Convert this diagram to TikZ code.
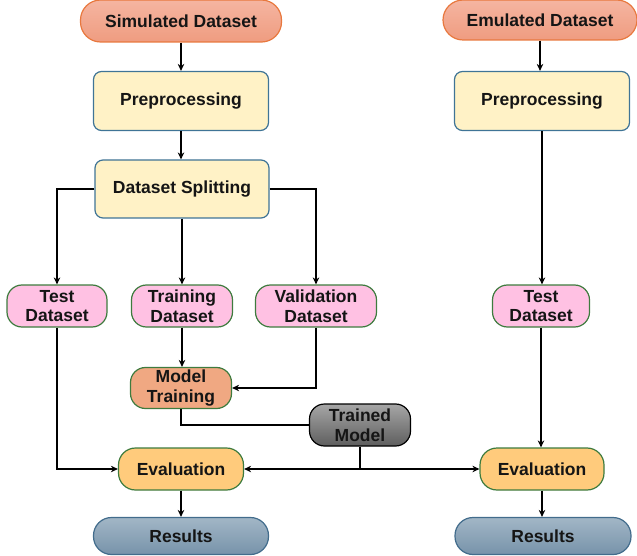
\documentclass[tikz,border=0pt]{standalone}
\usepackage{fontspec}
\setmainfont{Liberation Sans}
\usetikzlibrary{arrows.meta}
\definecolor{salmonT}{HTML}{F5B5A1}
\definecolor{salmonB}{HTML}{EF9C80}
\definecolor{orangeD}{HTML}{E8783E}
\definecolor{yellowF}{HTML}{FFF2C6}
\definecolor{blueD}{HTML}{3F7496}
\definecolor{pinkF}{HTML}{FFC1E3}
\definecolor{greenD}{HTML}{3E7B3E}
\definecolor{mtF}{HTML}{F0A882}
\definecolor{evalF}{HTML}{FFCB7C}
\definecolor{grayT}{HTML}{A6A6A6}
\definecolor{grayB}{HTML}{5E5E5E}
\definecolor{resT}{HTML}{A2B6C6}
\definecolor{resB}{HTML}{7793AA}
\definecolor{resD}{HTML}{426C8C}
\definecolor{txt}{HTML}{151515}
\begin{document}
\begin{tikzpicture}[x=1pt,y=-1pt,
  base/.style={draw,line width=1.2pt,align=center,inner sep=0pt,
    text=txt,font=\bfseries\fontsize{17.5}{19.5}\selectfont},
  srcbox/.style={base,draw=orangeD,top color=salmonT,bottom color=salmonB,
    rounded corners=20pt},
  procbox/.style={base,draw=blueD,fill=yellowF,rounded corners=8pt,
    minimum width=175pt,minimum height=59pt},
  databox/.style={base,draw=greenD,fill=pinkF,rounded corners=15pt,
    minimum height=42pt},
  mtbox/.style={base,draw=greenD,fill=mtF,rounded corners=15pt,
    minimum width=101pt,minimum height=41pt},
  tmbox/.style={base,draw=black,top color=grayT,bottom color=grayB,
    rounded corners=15pt,minimum width=101pt,minimum height=42pt},
  evalbox/.style={base,draw=greenD,fill=evalF,rounded corners=17pt,
    minimum height=42pt},
  resbox/.style={base,draw=resD,top color=resT,bottom color=resB,
    rounded corners=18pt,minimum height=37pt},
  conn/.style={line width=2.2pt,draw=black},
  arr/.style={conn,-{Stealth[length=7pt,width=6.5pt]}}
]
\useasboundingbox (0,0) rectangle (637,556);

% left column
\node[srcbox,minimum width=201pt,minimum height=42pt] (sim) at (181,21) {Simulated Dataset};
\node[procbox] (pre1) at (181,101) {Preprocessing};
\node[procbox,minimum width=174pt,minimum height=58pt] (split) at (182,189) {Dataset Splitting};
\node[databox,minimum width=100pt] (test1) at (57,306) {Test\\Dataset};
\node[databox,minimum width=101pt] (train) at (182,306) {Training\\Dataset};
\node[databox,minimum width=121pt] (val) at (316,306) {Validation\\Dataset};
\node[mtbox] (mt) at (181,388) {Model\\Training};
\node[tmbox] (tm) at (360,425) {Trained\\Model};
\node[evalbox,minimum width=125pt] (eval1) at (181,469) {Evaluation};
\node[resbox,minimum width=175pt] (res1) at (181,536) {Results};

% right column
\node[srcbox,minimum width=194pt,minimum height=40pt] (emu) at (540,20) {Emulated Dataset};
\node[procbox] (pre2) at (542,101) {Preprocessing};
\node[databox,minimum width=97pt] (test2) at (541,306) {Test\\Dataset};
\node[evalbox,minimum width=124pt] (eval2) at (542,469) {Evaluation};
\node[resbox,minimum width=176pt] (res2) at (543,536) {Results};

% connectors left
\draw[arr] (sim.south) -- (sim.south |- pre1.north);
\draw[arr] (pre1.south) -- (pre1.south |- split.north);
\draw[arr] (split.west) -| (test1.north);
\draw[arr] (split.south) -- (split.south |- train.north);
\draw[arr] (split.east) -| (val.north);
\draw[arr] (train.south) -- (train.south |- mt.north);
\draw[arr] (val.south) |- (mt.east);
\draw[conn] (mt.south) |- (tm.west);
\draw[arr] (test1.south) |- (eval1.west);
\draw[arr] (tm.south) |- (eval1.east);
\draw[arr] (tm.south) |- (eval2.west);
\draw[arr] (eval1.south) -- (eval1.south |- res1.north);

% connectors right
\draw[arr] (emu.south) -- (emu.south |- pre2.north);
\draw[arr] (pre2.south) -- (pre2.south |- test2.north);
\draw[arr] (test2.south) -- (test2.south |- eval2.north);
\draw[arr] (eval2.south) -- (eval2.south |- res2.north);
\end{tikzpicture}
\end{document}
